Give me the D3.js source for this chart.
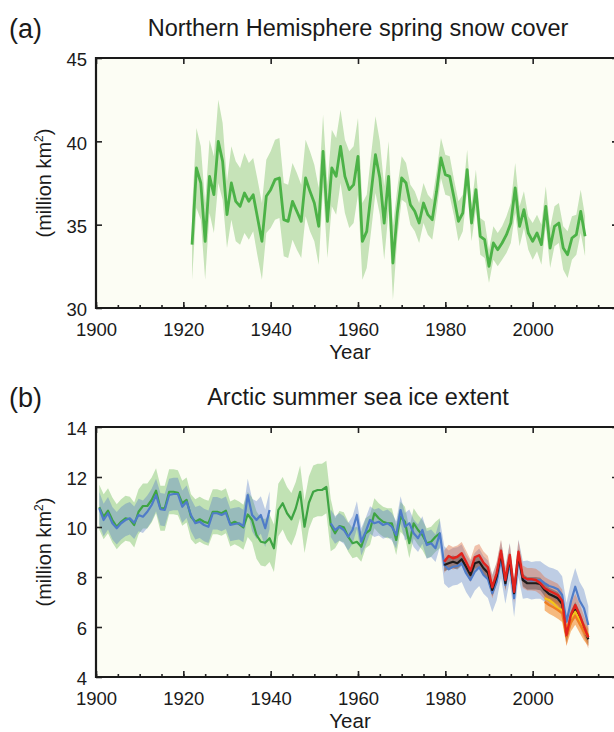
<!DOCTYPE html>
<html>
<head>
<meta charset="utf-8">
<script src="https://cdn.jsdelivr.net/npm/d3@7"></script>
<style>
  html, body { margin: 0; padding: 0; background: #ffffff; }
  svg { display: block; font-family: "Liberation Sans", Arial, Helvetica, sans-serif; }
</style>
</head>
<body>
<svg id="fig" width="614" height="732"></svg>
<script>
// ---------------- data ----------------
// Axis ticks
const yearTicks = [1900, 1920, 1940, 1960, 1980, 2000];
const yearMinorStep = 5;
const snowTicks = [30, 35, 40, 45];
const iceTicks = [4, 6, 8, 10, 12, 14];

// (a) Northern Hemisphere March-April snow cover (million km2), 1922-2012
const snowStart = 1922;
const snowCover = [
  33.8, 38.4, 37.5, 34.0, 37.9, 36.8, 40.0, 38.8,
  35.6, 37.5, 36.4, 36.1, 36.9, 36.4, 36.8, 35.4, 34.0, 36.7,
  37.1, 37.7, 37.8, 35.3, 35.2, 36.4, 35.8, 35.2, 37.8, 37.0,
  36.3, 34.9, 39.4, 35.2, 38.4, 37.9, 39.7, 37.9, 37.1, 37.4,
  39.1, 34.0, 34.6, 36.9, 39.2, 37.8, 35.1, 37.9, 32.7, 35.7,
  37.8, 37.5, 36.2, 35.8, 35.1, 36.3, 35.6, 35.3, 37.0, 39.0,
  38.0, 37.9, 36.6, 35.2, 35.7, 38.3, 35.1, 37.1, 34.3, 34.1,
  32.5, 33.9, 33.5, 33.9, 34.4, 35.1, 37.2, 34.9, 35.9, 34.5,
  34.0, 34.5, 33.8, 36.1, 33.6, 34.9, 35.1, 33.6, 33.2, 34.2,
  34.4, 35.8, 34.3
];
// half-width of the uncertainty range, per year
const snowSpread = [
  2.1, 2.4, 2.2, 2.3, 2.2, 2.3, 2.5, 2.3,
  2.0, 2.2, 2.4, 2.3, 2.4, 2.3, 2.2, 2.3, 2.3, 2.2,
  2.3, 2.4, 2.4, 2.2, 2.2, 2.3, 2.3, 2.2, 2.3, 2.4,
  2.3, 2.3, 2.2, 2.2, 2.3, 2.3, 2.2, 2.2, 2.3, 2.3,
  2.3, 2.3, 2.2, 2.3, 2.3, 2.2, 2.2, 2.1, 2.2, 1.5,
  1.3, 1.2, 1.2, 1.2, 1.2, 1.2, 1.2, 1.2, 1.2, 1.2,
  1.2, 1.2, 1.1, 1.2, 1.1, 1.2, 1.1, 1.2, 1.1, 1.1,
  1.0, 1.0, 1.0, 1.0, 1.1, 1.2, 1.5, 1.2, 1.1, 1.0,
  1.1, 1.1, 1.2, 1.2, 1.2, 1.2, 1.2, 1.3, 1.4, 1.3,
  1.2, 1.3, 1.2
];

// (b) Arctic July-August-September sea ice extent (million km2)
// summer means are placed late in their year on the time axis
const iceSeasonPos = 0.75;

// long reconstruction, 1900-1978
const iceGreenStart = 1900;
const iceGreen = [
  10.79, 10.41, 10.65, 10.28, 10.01, 10.21, 10.35, 10.31, 10.08, 10.61,
  10.84, 10.84, 11.08, 11.45, 10.75, 10.75, 11.41, 11.41, 11.37, 10.95,
  11.08, 10.41, 10.21, 10.31, 10.21, 10.15, 10.61, 10.61, 10.55, 10.65,
  10.12, 10.21, 10.12,  9.99, 10.50, 10.28,  9.68,  9.41,  9.37,  9.55,
   9.15, 10.68, 10.95, 10.55, 10.31, 10.75, 11.41, 10.01, 10.97, 11.41,
  11.48, 11.48, 11.60, 10.08,  9.75, 10.04,  9.99,  9.61,  9.35,  9.41,
   9.21,  9.75,  9.88, 10.55, 10.35, 10.21, 10.15, 10.15,  9.48, 10.41,
  10.21,  9.35, 10.15,  9.88,  9.68,  9.35,  9.41,  9.61,  9.75
];
// [first year, last year, half-width]
const iceGreenSpread = [[1900, 1935, 0.9], [1936, 1940, 0.95], [1941, 1953, 1.05], [1954, 1978, 0.6]];

// second reconstruction continued by observations, 1900-2012 (gap 1940-1952)
const iceBlueStart = 1900;
const iceBlue = [
  10.75, 10.28, 10.55, 10.15,  9.95, 10.15, 10.28, 10.35, 10.17, 10.48,
  10.41, 10.61, 10.88, 11.28, 10.71, 10.68, 11.28, 11.32, 11.32, 10.81,
  11.01, 10.48, 10.15, 10.21, 10.08, 10.01, 10.55, 10.55, 10.48, 10.57,
  10.08, 10.12, 10.15, 10.04, 11.28, 10.48, 10.28, 10.48,  9.95, 10.68,
  null, null, null, null, null, null, null, null, null, null,
  null, null, null, 10.15,  9.88, 10.01,  9.88,  9.61,  9.88, 10.48,
   9.41,  9.81, 10.28, 10.15, 10.21, 10.08, 10.15, 10.01,  9.68, 10.68,
  10.01, 10.15,  9.75,  9.55,  9.88,  9.28,  9.35,  9.15,  9.75,  8.48,
   8.31,  8.41,  8.44,  8.55,  8.15,  7.88,  8.21,  8.39,  8.08,  7.91,
   7.35,  7.81,  8.71,  7.68,  8.61,  7.15,  8.75,  7.88,  7.91,  7.85,
   7.88,  7.88,  7.75,  7.64,  7.59,  7.51,  7.28,  6.21,  7.01,  7.61,
   7.05,  6.75,  6.08
];
const iceBlueSpread = [[1900, 1935, 0.65], [1936, 1939, 0.75], [1953, 1978, 0.55], [1979, 2012, 0.75]];

// satellite-era records, 1979-2012
const satStart = 1979;
const iceBlack = [
  8.48, 8.55, 8.61, 8.55, 8.71, 8.41, 8.08, 8.55, 8.61, 8.35,
  8.17, 7.48, 8.01, 8.95, 7.75, 8.75, 7.35, 8.88, 7.88, 7.75,
  7.75, 7.75, 7.72, 7.48, 7.32, 7.24, 7.15, 6.92, 5.64, 6.39,
  6.75, 6.39, 5.91, 5.51
];
const iceBlackSpread = [[1979, 2012, 0.25]];
const iceRed = [
  8.61, 8.84, 8.75, 8.81, 8.95, 8.61, 8.25, 8.79, 8.87, 8.57,
  8.39, 7.59, 8.15, 9.05, 7.88, 8.88, 7.41, 9.01, 8.01, 7.91,
  7.91, 7.88, 7.75, 7.55, 7.45, 7.37, 7.28, 7.05, 5.68, 6.48,
  6.88, 6.48, 6.01, 5.59
];
const iceRedSpread = [[1979, 2012, 0.45]];

// recent records, 2002-2012
const recentStart = 2002;
const iceOrange = [7.01, 6.88, 6.79, 6.68, 6.55, 5.61, 6.17, 6.44, 6.12, 5.81, 5.59];
const iceOrangeSpread = [[2002, 2012, 0.35]];
const iceYellow = [7.15, 7.08, 6.95, 6.75, 6.68, 5.88, 6.35, 6.61, 6.28, 5.95, 5.68];

// ---------------- drawing ----------------
const svg = d3.select("#fig");
const x = d3.scaleLinear().domain([1900, 2020]).range([96, 620]);

const panels = [
  { id: "a", label: "(a)", title: "Northern Hemisphere spring snow cover",
    y: d3.scaleLinear().domain([30, 45]).range([308, 58]), ticks: snowTicks },
  { id: "b", label: "(b)", title: "Arctic summer sea ice extent",
    y: d3.scaleLinear().domain([4, 14]).range([677, 427]), ticks: iceTicks }
];

const minorTicks = d3.range(1900, 2021, yearMinorStep);

function series(start, values, offset) {
  return values.map((v, i) => ({ t: start + i + offset, v: v, yr: start + i }));
}
function spreadLookup(segments) {
  return yr => {
    const s = segments.find(g => yr >= g[0] && yr <= g[1]);
    return s ? s[2] : 0;
  };
}

panels.forEach(p => {
  const [y0, y1] = p.y.range();
  const [xl, xr] = x.range();
  const g = svg.append("g").attr("class", "panel-" + p.id);

  // plot background
  g.append("rect").attr("x", xl).attr("y", y1).attr("width", xr - xl).attr("height", y0 - y1)
    .attr("fill", "#fcfdf4");

  g.append("clipPath").attr("id", "clip-" + p.id)
    .append("rect").attr("x", xl).attr("y", y1).attr("width", xr - xl).attr("height", y0 - y1);
  p.plot = g.append("g").attr("clip-path", "url(#clip-" + p.id + ")");

  // axes (ticks pointing into the plot)
  const bottom = g.append("g").attr("transform", `translate(0,${y0})`)
    .call(d3.axisBottom(x).tickValues(yearTicks).tickSize(-6).tickPadding(15).tickFormat(d3.format("d")));
  g.append("g").attr("transform", `translate(0,${y0})`)
    .call(d3.axisBottom(x).tickValues(minorTicks).tickSize(-3).tickFormat(""));
  g.append("g").attr("transform", `translate(0,${y1})`)
    .call(d3.axisTop(x).tickValues(yearTicks.concat([2020])).tickSize(-6).tickFormat(""));
  const left = g.append("g").attr("transform", `translate(${xl},0)`)
    .call(d3.axisLeft(p.y).tickValues(p.ticks).tickSize(-6).tickPadding(9).tickFormat(d3.format("d")));
  g.append("g").attr("transform", `translate(${xr},0)`)
    .call(d3.axisRight(p.y).tickValues(p.ticks).tickSize(-8).tickFormat(""));

  g.selectAll(".domain").remove();
  g.selectAll(".tick line").attr("stroke", "#222").attr("stroke-width", 1.6);
  bottom.selectAll("text").attr("font-size", 18.5).attr("fill", "#1a1a1a");
  left.selectAll("text").attr("font-size", 18.5).attr("fill", "#1a1a1a").attr("dy", "0.42em");

  p.frame = g;

  // titles and labels
  svg.append("text").attr("x", 9).attr("y", y1 - 20).attr("font-size", 27).attr("fill", "#1a1a1a")
    .text(p.label);
  svg.append("text").attr("x", 358).attr("y", y1 - 22).attr("text-anchor", "middle")
    .attr("font-size", 23.5).attr("fill", "#1a1a1a").text(p.title);
  svg.append("text").attr("x", 350).attr("y", y0 + 51).attr("text-anchor", "middle")
    .attr("font-size", 20.5).attr("fill", "#1a1a1a").text("Year");
  const yl = svg.append("text")
    .attr("transform", `translate(51,${(y0 + y1) / 2}) rotate(-90)`)
    .attr("text-anchor", "middle").attr("font-size", 20).attr("fill", "#1a1a1a");
  yl.append("tspan").text("(million km");
  yl.append("tspan").attr("font-size", 12).attr("dy", "-0.65em").text("2");
  yl.append("tspan").attr("dy", "0.4em").text(")");
});

function drawBand(p, data, spread, fill, opacity) {
  const area = d3.area()
    .defined(d => d.v != null)
    .x(d => x(d.t))
    .y0(d => p.y(d.v - spread(d.yr)))
    .y1(d => p.y(d.v + spread(d.yr)));
  p.plot.append("path").datum(data).attr("d", area).attr("fill", fill).attr("fill-opacity", opacity);
}
function drawLine(p, data, stroke, width) {
  const line = d3.line().defined(d => d.v != null).x(d => x(d.t)).y(d => p.y(d.v));
  p.plot.append("path").datum(data).attr("d", line).attr("fill", "none")
    .attr("stroke", stroke).attr("stroke-width", width).attr("stroke-linejoin", "round");
}

// (a) snow cover
const pa = panels[0];
const snow = series(snowStart, snowCover, 0);
drawBand(pa, snow, yr => snowSpread[yr - snowStart], "#c6e3b8", 1);
drawLine(pa, snow, "#4cb247", 2.8);

// (b) sea ice
const pb = panels[1];
const green = series(iceGreenStart, iceGreen, iceSeasonPos);
const blue = series(iceBlueStart, iceBlue, iceSeasonPos);
const black = series(satStart, iceBlack, iceSeasonPos);
const red = series(satStart, iceRed, iceSeasonPos);
const orange = series(recentStart, iceOrange, iceSeasonPos);
const yellow = series(recentStart, iceYellow, iceSeasonPos);

drawBand(pb, green, spreadLookup(iceGreenSpread), "rgb(105,185,85)", 0.4);
drawBand(pb, blue, spreadLookup(iceBlueSpread), "rgb(80,118,200)", 0.36);
drawBand(pb, red, spreadLookup(iceRedSpread), "rgb(225,110,70)", 0.42);
drawBand(pb, black, spreadLookup(iceBlackSpread), "rgb(50,40,40)", 0.35);
drawBand(pb, orange, spreadLookup(iceOrangeSpread), "rgb(240,130,30)", 0.55);

drawLine(pb, green, "#3ea443", 2.2);
drawLine(pb, blue, "#4f7cc8", 2.2);
drawLine(pb, black, "#1e1a1a", 2.2);
drawLine(pb, yellow, "#f5c518", 2.2);
drawLine(pb, orange, "#ef7d22", 2.2);
drawLine(pb, red, "#e2231d", 2.4);

// frames on top of the data
panels.forEach(p => {
  const [y0, y1] = p.y.range();
  const [xl, xr] = x.range();
  p.frame.append("path")
    .attr("d", `M${xr},${y1}H${xl}V${y0}H${xr}`)
    .attr("fill", "none").attr("stroke", "#1a1a1a").attr("stroke-width", 2.2);
  p.frame.raise();
});
</script>
</body>
</html>
